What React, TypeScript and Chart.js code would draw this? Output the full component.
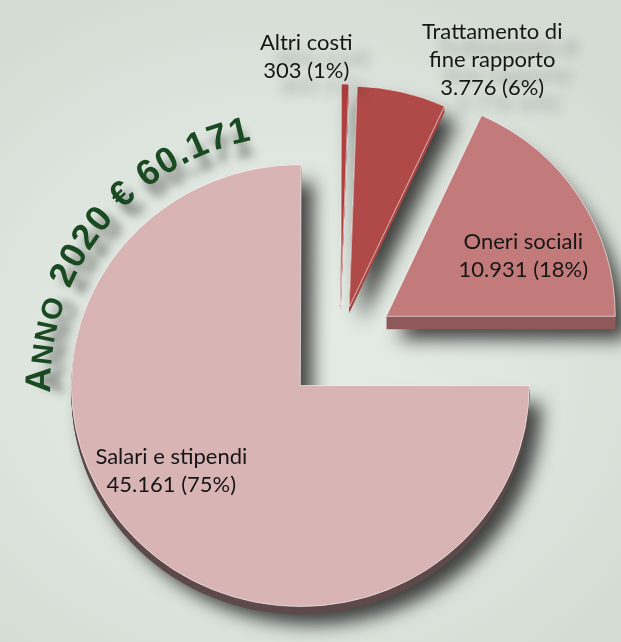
import React, { useEffect, useRef } from 'react';
import { Chart, registerables } from 'chart.js';

Chart.register(...registerables);

// ---- data ----
const CATEGORIES = ['Salari e stipendi', 'Altri costi', 'Trattamento di fine rapporto', 'Oneri sociali'];
const LABEL_LINES = [['Salari e stipendi'], ['Altri costi'], ['Trattamento di', 'fine rapporto'], ['Oneri sociali']];
const VALUES = [45161, 303, 3776, 10931];
const YEAR = '2020';

// ---- style ----
const COLORS = ['#d8b4b4', '#b0403f', '#b04a48', '#c27b7a'];
const SIDE_COLORS = ['#5e4a4b', '#8e3535', '#a64543', '#8f5a5a'];
const DEPTHS = [8, 5, 6, 13];
const EXPLODE = [56, 41, 40, 55];
const LABEL_OFFSETS = [[-129, 84.5], [-34.5, -248.5], [143, -247.5], [137, -60.5]];
const LABEL_OUTSIDE = [false, true, true, false];
const RADIUS = 229;
const SCALE_Y = 0.965;
const TITLE_RADIUS = 250;
const TITLE_MID_DEG = -141.5;
const TITLE_SPACING = 1.2;

function fmt(n: number): string {
  return String(n).replace(/\B(?=(\d{3})+(?!\d))/g, '.');
}

const total = VALUES.reduce((a, b) => a + b, 0);

function vertexOf(a: any, i: number) {
  const mid = (a.startAngle + a.endAngle) / 2;
  return { x: a.x + Math.cos(mid) * EXPLODE[i], y: a.y + Math.sin(mid) * EXPLODE[i] };
}

const piePlugin = {
  id: 'pie3d',
  beforeDatasetsDraw(chart: any) {
    const ctx = chart.ctx as CanvasRenderingContext2D;
    const arcs = chart.getDatasetMeta(0).data as any[];
    if (!arcs.length) return false;
    const cx = arcs[0].x;
    const cy = arcs[0].y;
    const draw = (i: number, dy: number, fill: string, stroke: string, bw: number) => {
      const a = arcs[i];
      const mid = (a.startAngle + a.endAngle) / 2;
      ctx.save();
      ctx.translate(Math.cos(mid) * EXPLODE[i], Math.sin(mid) * EXPLODE[i] + dy);
      ctx.translate(cx, cy);
      ctx.scale(1, SCALE_Y);
      ctx.translate(-cx, -cy);
      const f = Object.create(a);
      f.options = Object.assign({}, a.options, {
        backgroundColor: fill,
        borderColor: stroke,
        borderWidth: bw,
        offset: 0,
      });
      f.draw(ctx);
      ctx.restore();
    };
    // shadows
    ctx.save();
    ctx.shadowColor = 'rgba(0,0,0,0.72)';
    ctx.shadowBlur = 18;
    ctx.shadowOffsetX = 12;
    ctx.shadowOffsetY = 10;
    arcs.forEach((_a, i) => draw(i, DEPTHS[i], SIDE_COLORS[i], 'rgba(0,0,0,0)', 0));
    ctx.restore();
    // sides
    arcs.forEach((_a, i) => {
      for (let d = DEPTHS[i] - 1; d >= 1; d--) draw(i, d, SIDE_COLORS[i], SIDE_COLORS[i], 0);
    });
    // top faces
    arcs.forEach((_a, i) => draw(i, 0, COLORS[i], 'rgba(255,255,255,0.6)', 1));
    return false;
  },
  afterDraw(chart: any) {
    const ctx = chart.ctx as CanvasRenderingContext2D;
    const arcs = chart.getDatasetMeta(0).data as any[];
    if (!arcs.length) return;

    // slice labels
    ctx.save();
    ctx.font = '22px Lato';
    ctx.textAlign = 'center';
    ctx.textBaseline = 'alphabetic';
    ctx.fillStyle = '#161616';
    arcs.forEach((a, i) => {
      const v = vertexOf(a, i);
      const ax = v.x + LABEL_OFFSETS[i][0];
      const ay = v.y + LABEL_OFFSETS[i][1];
      const pct = Math.round((VALUES[i] / total) * 100);
      const lines = [...LABEL_LINES[i], `${fmt(VALUES[i])} (${pct}%)`];
      const n = lines.length;
      ctx.save();
      if (LABEL_OUTSIDE[i]) {
        ctx.shadowColor = 'rgba(0,0,0,0.3)';
        ctx.shadowBlur = 12;
        ctx.shadowOffsetX = 16;
        ctx.shadowOffsetY = 16;
      }
      lines.forEach((t, j) => {
        ctx.fillText(t, ax, ay + (j - (n - 1) / 2) * 28 + 7.5);
      });
      ctx.restore();
    });
    ctx.restore();

    // curved title around the main slice
    const c = vertexOf(arcs[0], 0);
    const segs = [
      { t: 'A', s: 36 },
      { t: 'NNO', s: 29 },
      { t: ` ${YEAR} € ${fmt(total)}`, s: 36 },
    ];
    const chars: { ch: string; s: number; w: number }[] = [];
    segs.forEach((sg) => {
      ctx.font = `bold ${sg.s}px "Liberation Sans"`;
      for (const ch of sg.t) chars.push({ ch, s: sg.s, w: ctx.measureText(ch).width + TITLE_SPACING });
    });
    const W = chars.reduce((a, b) => a + b.w, 0);
    const th0 = (TITLE_MID_DEG * Math.PI) / 180 - W / TITLE_RADIUS / 2;
    let acc = 0;
    ctx.save();
    ctx.fillStyle = '#1a4a22';
    ctx.textAlign = 'center';
    ctx.textBaseline = 'alphabetic';
    chars.forEach((k) => {
      const th = th0 + (acc + k.w / 2) / TITLE_RADIUS;
      acc += k.w;
      if (k.ch === ' ') return;
      const px = c.x + Math.cos(th) * TITLE_RADIUS;
      const py = c.y + Math.sin(th) * TITLE_RADIUS;
      ctx.save();
      ctx.shadowColor = 'rgba(0,0,0,0.5)';
      ctx.shadowBlur = 10;
      ctx.shadowOffsetX = -Math.cos(th) * 14;
      ctx.shadowOffsetY = -Math.sin(th) * 14;
      ctx.translate(px, py);
      ctx.rotate(th + Math.PI / 2);
      ctx.font = `bold ${k.s}px "Liberation Sans"`;
      ctx.fillText(k.ch, 0, 0);
      ctx.restore();
    });
    ctx.restore();
  },
};

export default function App() {
  const ref = useRef<HTMLCanvasElement | null>(null);
  useEffect(() => {
    if (!ref.current) return;
    const chart = new Chart(ref.current, {
      type: 'pie',
      data: {
        labels: CATEGORIES,
        datasets: [
          {
            data: VALUES,
            backgroundColor: COLORS,
            borderColor: 'rgba(255,255,255,0.6)',
            borderWidth: 1,
            radius: RADIUS,
            rotation: 90,
          } as any,
        ],
      },
      options: {
        animation: false,
        responsive: true,
        maintainAspectRatio: false,
        events: [],
        layout: { padding: { left: 59, top: 50, right: 0, bottom: 0 } },
        plugins: { legend: { display: false }, tooltip: { enabled: false } },
      },
      plugins: [piePlugin as any],
    });
    let alive = true;
    (document as any).fonts?.ready?.then(() => {
      if (alive) chart.draw();
    });
    return () => {
      alive = false;
      chart.destroy();
    };
  }, []);
  return (
    <div
      style={{
        position: 'fixed',
        left: 0,
        top: 0,
        width: 621,
        height: 642,
        background: 'radial-gradient(ellipse 70% 60% at 45% 55%, #e6ece6 0%, #dfe6df 55%, #d4dcd4 100%)',
      }}
    >
      <canvas ref={ref} />
    </div>
  );
}
